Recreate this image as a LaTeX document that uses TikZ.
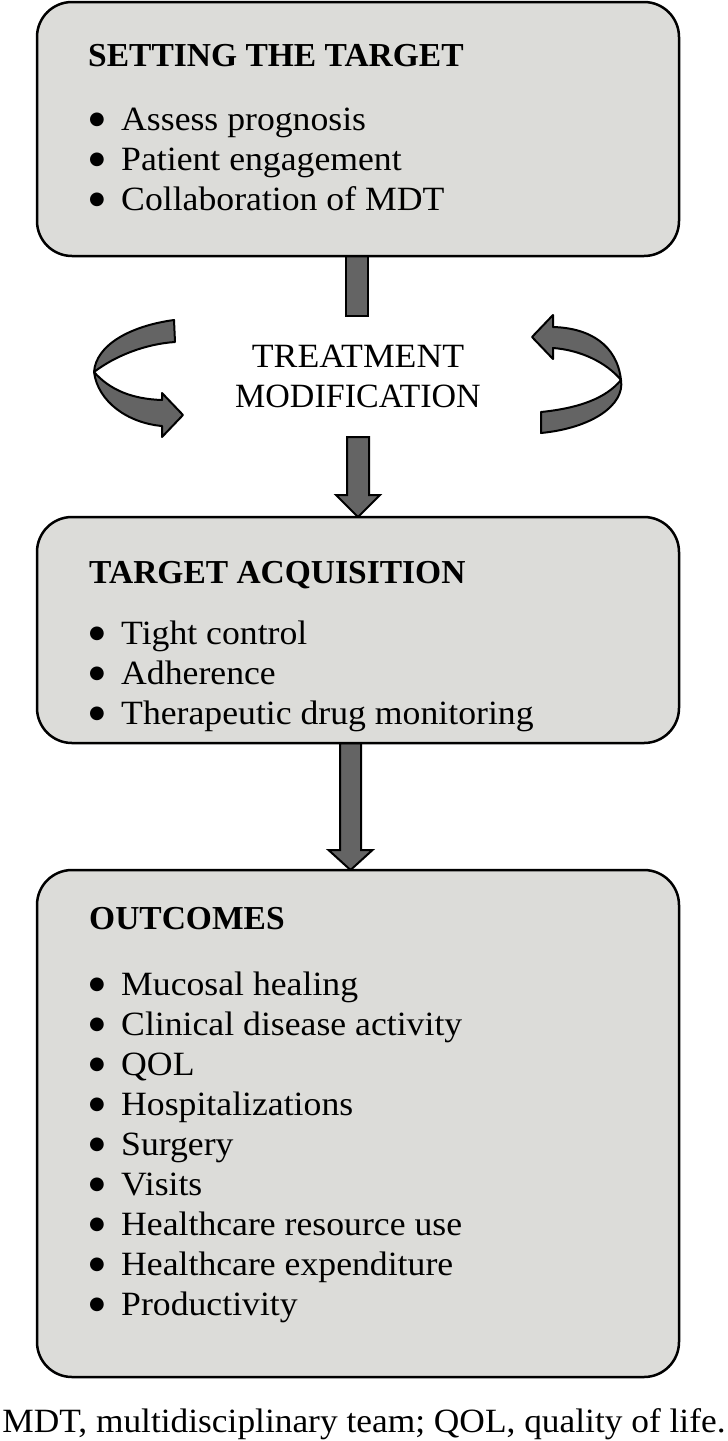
\documentclass[tikz,border=0pt]{standalone}
\usepackage{fontspec}
\setmainfont{Liberation Serif}
\newfontfamily\itemfont[FakeStretch=1.05]{Liberation Serif}
\newfontfamily\symfont{DejaVu Sans}
\usetikzlibrary{calc,backgrounds}
\definecolor{boxgray}{HTML}{DCDCD9}
\definecolor{arrowgray}{HTML}{646464}
\newcommand{\bul}{\makebox[33pt][l]{\hspace{1pt}\raisebox{5.4pt}{\fontsize{18}{18}\selectfont\symfont ●}}}
\begin{document}
\begin{tikzpicture}[x=1pt,y=-1pt,
  panel/.style={draw=black, line width=2.5pt, fill=boxgray, rounded corners=35pt,
    minimum width=642pt, inner sep=0pt, outer sep=0pt},
  headtext/.style={anchor=base west, inner sep=0pt, font=\fontsize{33.5}{40}\selectfont\bfseries},
  itemtext/.style={anchor=base west, inner sep=0pt, font=\fontsize{34}{40}\selectfont\itemfont},
  midtext/.style={anchor=base, inner sep=0pt, font=\fontsize{34}{40}\selectfont},
  fat/.style={draw=black, line width=2pt, fill=arrowgray, line join=miter},
  ribbon/.style={draw=black, line width=2pt, fill=arrowgray, line join=round},
]
\useasboundingbox (0,0) rectangle (728,1441);

% panels
\node[panel, minimum height=254pt] (b1) at (358,129) {};
\node[panel, minimum height=226pt] (b2) at (358,630) {};
\node[panel, minimum height=507pt] (b3) at (358,1123.5) {};

% headers
\node[headtext] (h1) at (88,66) {SETTING THE TARGET};
\node[headtext] (h2) at (89,583) {TARGET ACQUISITION};
\node[headtext] (h3) at (89,929) {OUTCOMES};

% items
\foreach \t [count=\i] in {Assess prognosis, Patient engagement, Collaboration of MDT}
  \node[itemtext] (ia\i) at (88,90+40*\i) {\bul\t};
\foreach \t [count=\i] in {Tight control, Adherence, Therapeutic drug monitoring}
  \node[itemtext] (ib\i) at (88,604+40*\i) {\bul\t};
\foreach \t [count=\i] in {Mucosal healing, Clinical disease activity, QOL, Hospitalizations,
    Surgery, Visits, Healthcare resource use, Healthcare expenditure, Productivity}
  \node[itemtext] (ic\i) at (88,955+40*\i) {\bul\t};

% middle text
\node[midtext] (tm1) at (358,367) {\scalebox{1.05}[1]{TREATMENT}};
\node[midtext] (tm2) at (358,407) {MODIFICATION};

% caption
\node[midtext] (cap) at (364,1432) {\scalebox{1.04}[1]{MDT, multidisciplinary team; QOL, quality of life.}};

\begin{scope}[on background layer]
% stem below first panel
\draw[fat] ($(b1.south)+(-12,0)$) rectangle ($(b1.south)+(10,60)$);
% arrow into second panel
\draw[fat] (b2.north) -- ++(-22,-22) -- ++(11,0) -- ++(0,-58) -- ++(22,0)
  -- ++(0,58) -- ++(11,0) -- cycle;
% arrow into third panel
\draw[fat] ($(b3.north)+(-7.5,0)$) -- ++(-22,-20) -- ++(11.5,0) -- ++(0,-107)
  -- ++(21,0) -- ++(0,107) -- ++(11.5,0) -- cycle;
\end{scope}

% left twisted arrow
\draw[ribbon] (174,320) .. controls (130,326) and (96,345) .. (94,372)
  .. controls (115,356) and (145,344) .. (175,342) -- cycle;
\draw[ribbon] (94,372) .. controls (98,402) and (128,423) .. (162,426)
  -- (162,437) -- (183,415) -- (162,393) -- (162,400)
  .. controls (132,399) and (110,390) .. (94,372) -- cycle;

% right twisted arrow
\draw[ribbon] (621,380) .. controls (625,405) and (592,428) .. (541,433)
  -- (541,412) .. controls (580,408) and (606,398) .. (621,380) -- cycle;
\draw[ribbon] (621,380) .. controls (617,345) and (590,328) .. (553,327)
  -- (553,315) -- (532,337) -- (553,359) -- (553,348)
  .. controls (580,350) and (606,362) .. (621,380) -- cycle;
\end{tikzpicture}
\end{document}
